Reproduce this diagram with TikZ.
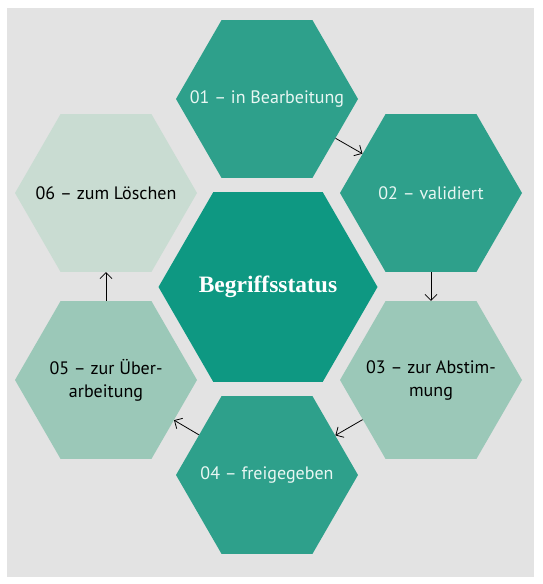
\documentclass[tikz,border=0pt]{standalone}
\usepackage{fontspec}
\setmainfont{PT Sans}
\newfontfamily\titlefont{Liberation Serif}
\usetikzlibrary{shapes.geometric, arrows.meta}

\definecolor{bggray}{RGB}{227,227,227}
\definecolor{tealdark}{RGB}{14,152,130}
\definecolor{tealmid}{RGB}{46,160,139}
\definecolor{teallight}{RGB}{155,200,184}
\definecolor{tealpale}{RGB}{201,220,210}
\definecolor{textlight}{RGB}{232,247,243}

\tikzset{
	hexa/.style = {regular polygon, regular polygon sides = 6, minimum size = 182pt, inner sep = 0pt},
	hexadark/.style = {hexa, fill = tealmid},
	hexalight/.style = {hexa, fill = teallight},
	hexapale/.style = {hexa, fill = tealpale},
	hexatext/.style = {align = center, inner sep = 0pt, font = \fontsize{18}{23}\selectfont}
}

\begin{document}
\begin{tikzpicture}[x = 1pt, y = -1pt, > = {Straight Barb[length = 6pt, width = 12pt]}]

	% Background
	
	\fill [white] (0, 0) rectangle (543, 584);
	\fill [bggray] (7, 8) rectangle (534, 577);

	% Center
	
	\node [hexa, minimum size = 219pt, fill = tealdark] (status) at (268, 287) {};
	\node [text = white, font = \titlefont\bfseries\fontsize{23.5}{28}\selectfont] at (status) {Begriffsstatus};

	% Status hexagons
	
	\node [hexadark] (s01) at (267, 99) {};
	\node [hexadark] (s02) at (431, 193) {};
	\node [hexalight] (s03) at (431, 380) {};
	\node [hexadark] (s04) at (267, 475) {};
	\node [hexalight] (s05) at (106, 380) {};
	\node [hexapale] (s06) at (106, 193) {};

	% Status labels
	
	\node [hexatext, text = textlight] at (s01) {01 -- in Bearbeitung};
	\node [hexatext, text = textlight] at (s02) {02 -- validiert};
	\node [hexatext] at (s03) {03 -- zur Abstim-\\mung};
	\node [hexatext, text = textlight] at (s04) {04 -- freigegeben};
	\node [hexatext] at (s05) {05 -- zur Über-\\arbeitung};
	\node [hexatext] at (s06) {06 -- zum Löschen};

	% Arrows
	
	\foreach \a/\b in {s01/s02, s02/s03, s03/s04, s04/s05, s05/s06}
		\draw [->, line width = 0.8pt] (\a) -- (\b);

\end{tikzpicture}
\end{document}
